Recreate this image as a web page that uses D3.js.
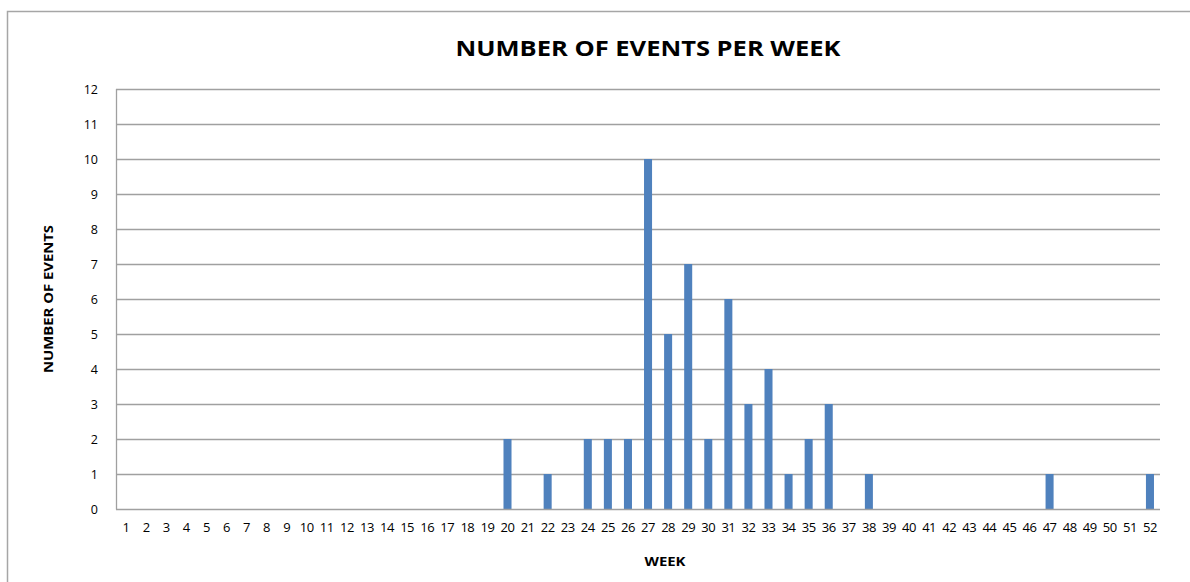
<!DOCTYPE html>
<html>
<head>
<meta charset="utf-8">
<script src="https://cdn.jsdelivr.net/npm/d3@7"></script>
<style>
  html, body { margin: 0; padding: 0; background: #fff; }
  svg { display: block; }
  text { font-family: "Open Sans", "Liberation Sans", sans-serif; fill: #000; }
</style>
</head>
<body>
<svg id="chart" width="1190" height="582"></svg>
<script>
const weeks = d3.range(1, 53).map(String);
const events = [0,0,0,0,0,0,0,0,0,0, 0,0,0,0,0,0,0,0,0,2, 0,1,0,2,2,2,10,5,7,2, 6,3,4,1,2,3,0,1,0,0, 0,0,0,0,0,0,1,0,0,0, 0,1];
const yTicks = d3.range(0, 13);
const titleText = "NUMBER OF EVENTS PER WEEK";
const xLabel = "WEEK";
const yLabel = "NUMBER OF EVENTS";

const svg = d3.select("#chart");
const m = { left: 116, right: 1160, top: 89, bottom: 509 };

// outer chart border
svg.append("rect").attr("x", 7.5).attr("y", 11.5).attr("width", 1200).attr("height", 600)
  .attr("fill", "none").attr("stroke", "#a6a6a6").attr("stroke-width", 1.5);

const x = d3.scaleBand().domain(weeks).range([m.left, m.right]).paddingInner(0.6).paddingOuter(0.3);
const y = d3.scaleLinear().domain([0, 12]).range([m.bottom, m.top]);

// gridlines
svg.append("g").selectAll("line").data(yTicks.filter(d => d > 0)).join("line")
  .attr("x1", m.left).attr("x2", m.right)
  .attr("y1", d => Math.round(y(d)) + 0.5).attr("y2", d => Math.round(y(d)) + 0.5)
  .attr("stroke", "#a0a0a0").attr("stroke-width", 1.3);

// bars
svg.append("g").selectAll("rect").data(weeks.map((w, i) => ({ w, v: events[i] })).filter(d => d.v > 0)).join("rect")
  .attr("x", d => x(d.w)).attr("width", x.bandwidth())
  .attr("y", d => y(d.v)).attr("height", d => y(0) - y(d.v))
  .attr("fill", "#4f81bd");

// axes lines
svg.append("line").attr("x1", m.left + 0.5).attr("x2", m.left + 0.5).attr("y1", m.top).attr("y2", m.bottom + 0.5)
  .attr("stroke", "#a0a0a0").attr("stroke-width", 1.3);
svg.append("line").attr("x1", m.left).attr("x2", m.right).attr("y1", m.bottom + 0.5).attr("y2", m.bottom + 0.5)
  .attr("stroke", "#a0a0a0").attr("stroke-width", 1.3);

// y tick labels
const yAxis = d3.axisLeft(y).tickValues(yTicks).tickSize(0).tickPadding(18);
const yg = svg.append("g").attr("transform", `translate(${m.left},0)`).call(yAxis);
yg.select(".domain").remove();
yg.selectAll("text").attr("font-size", 12.5).attr("font-family", "Open Sans, sans-serif").attr("fill", "#111");

// x tick labels
const xBand = d3.scaleBand().domain(weeks).range([m.left, m.right]);
const xAxis = d3.axisBottom(xBand).tickSize(0).tickPadding(14);
const xg = svg.append("g").attr("transform", `translate(0,${m.bottom})`).call(xAxis);
xg.select(".domain").remove();
xg.selectAll("text").attr("font-size", 13).attr("font-family", "Open Sans, sans-serif").attr("fill", "#111")
  .attr("letter-spacing", -0.5);

// title
svg.append("text").attr("x", 648).attr("y", 56).attr("text-anchor", "middle")
  .attr("font-size", 22).attr("font-weight", "bold").attr("textLength", 385).attr("lengthAdjust", "spacingAndGlyphs")
  .text(titleText);

// axis titles
svg.append("text").attr("x", 665).attr("y", 566).attr("text-anchor", "middle")
  .attr("font-size", 13).attr("font-weight", "bold").attr("textLength", 41).attr("lengthAdjust", "spacingAndGlyphs").text(xLabel);
svg.append("text").attr("transform", "translate(53,299) rotate(-90)").attr("text-anchor", "middle")
  .attr("font-size", 12.5).attr("font-weight", "bold").attr("textLength", 148).attr("lengthAdjust", "spacingAndGlyphs").text(yLabel);
</script>
</body>
</html>
